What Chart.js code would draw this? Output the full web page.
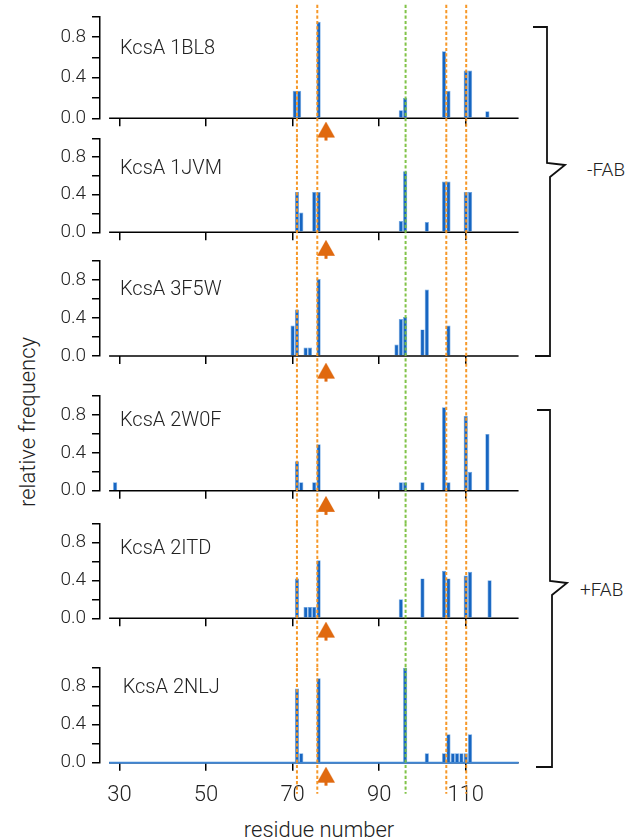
<!DOCTYPE html>
<html><head><meta charset="utf-8">
<script src="https://cdn.jsdelivr.net/npm/chart.js@4.4.1/dist/chart.umd.min.js"></script>
<style>
html,body{margin:0;padding:0;background:#fff}
body{width:641px;height:840px;overflow:hidden;position:relative;font-family:Roboto,"Liberation Sans",sans-serif;font-weight:300;color:#222}
canvas{position:absolute;left:0}
.t{position:absolute;white-space:nowrap;line-height:20px;font-size:20px}
svg{position:absolute;left:0;top:0}
</style></head><body>
<svg width="641" height="840">
  <path d="M533,27 H547 V163 L565,165 L550,177 V356 H535" fill="none" stroke="#111" stroke-width="1.8"/>
  <path d="M537,410 H550 V581 L567,583 L552,595 V767 H536" fill="none" stroke="#111" stroke-width="1.8"/>
</svg>
<div class="t" style="left:587px;top:160px;font-size:19px">-FAB</div>
<div class="t" style="left:580px;top:580px;font-size:19px">+FAB</div>
<div class="t" style="left:28px;top:422px;font-size:22px;transform:translate(-50%,-50%) rotate(-90deg)">relative frequency</div>
<div class="t" style="left:319px;top:820px;font-size:22px;transform:translateX(-50%)">residue number</div>
<script>
// ---------------- data ----------------
const panelNames = ['KcsA 1BL8','KcsA 1JVM','KcsA 3F5W','KcsA 2W0F','KcsA 2ITD','KcsA 2NLJ'];
const residues1BL8 = [70.5,71.5,76,95,96,105,106,110,111,115];
const freq1BL8     = [0.27,0.27,0.95,0.08,0.20,0.66,0.27,0.47,0.47,0.07];
const residues1JVM = [71,72,75,76,95,96,101,105,106,110,111];
const freq1JVM     = [0.43,0.21,0.43,0.43,0.12,0.65,0.11,0.54,0.54,0.43,0.43];
const residues3F5W = [70,71,73,74,76,94,95,96,100,101,106];
const freq3F5W     = [0.32,0.49,0.09,0.09,0.81,0.12,0.39,0.41,0.28,0.70,0.32];
const residues2W0F = [29,71,72,75,76,95,96,100,105,106,110,111,115];
const freq2W0F     = [0.09,0.31,0.09,0.09,0.49,0.09,0.09,0.09,0.88,0.09,0.79,0.20,0.60];
const residues2ITD = [71,73,74,75,76,95,100,105,106,110,111,115.5];
const freq2ITD     = [0.42,0.12,0.12,0.12,0.61,0.20,0.42,0.50,0.42,0.45,0.49,0.40];
const residues2NLJ = [71,72,76,96,101,105,106,107,108,109,110,111];
const freq2NLJ     = [0.78,0.10,0.89,1.00,0.10,0.10,0.30,0.10,0.10,0.10,0.10,0.30];
const orangeGuides = [71, 75.7, 105.5, 110.1];
const greenGuides  = [96.1];
const markerResidue = 77.7;
const markerLevels = [-0.13,-0.186,-0.175,-0.16,-0.14,-0.147];
const xTickValues = [30,50,70,90,110];
const yTickValues = [0,0.2,0.4,0.6,0.8,1.0];
const yLabelValues = [0,0.4,0.8];
const xLimits = [25.5, 122.3];
const xSpine = [27.6, 122.2];

const panelResidues = [residues1BL8,residues1JVM,residues3F5W,residues2W0F,residues2ITD,residues2NLJ];
const panelFreqs = [freq1BL8,freq1JVM,freq3F5W,freq2W0F,freq2ITD,freq2NLJ];

// ---------------- layout (pixels) ----------------
const geo = [
  {top:0,   h:145, y1:16.7,  y0:118.3, up:12, down:20,   tx:120,   tb:53.3},
  {top:124, h:142, y1:138.3, y0:232.3, up:0,  down:28.7, tx:120,   tb:174},
  {top:247, h:152, y1:261,   y0:356,   up:0,  down:40,   tx:120,   tb:295},
  {top:382, h:145, y1:396,   y0:490.7, up:0,  down:32.6, tx:120,   tb:425.7},
  {top:509, h:162, y1:523.3, y0:618.3, up:0,  down:49.4, tx:120,   tb:553.3},
  {top:653, h:187, y1:667.7, y0:762.7, up:0,  down:31,   tx:122.7, tb:692.7}
];

const BAR = '#1766c2', BAR_EDGE = '#6ea7e4';
const ORANGE = 'rgba(246,146,30,0.95)', GREEN = 'rgba(122,192,62,0.95)';
const TRI = '#e0690f', LINE_BLUE = '#3f86d4';
const FONT = 'Roboto, "Liberation Sans", sans-serif';

function makeArrow(){
  const c = document.createElement('canvas'); c.width = 18; c.height = 20;
  const g = c.getContext('2d'); g.fillStyle = TRI;
  g.beginPath(); g.moveTo(9,0); g.lineTo(18,16); g.lineTo(0,16); g.closePath(); g.fill();
  g.fillRect(7.5,15,3,4);
  return c;
}
const arrowImg = makeArrow();

const guidePlugin = {
  id:'guides',
  beforeDatasetsDraw(chart, args, o){
    const {ctx, chartArea, scales:{x}} = chart;
    ctx.save();
    ctx.strokeStyle = '#000'; ctx.lineWidth = 1.5;
    ctx.beginPath();
    ctx.moveTo(x.getPixelForValue(xSpine[0]), chartArea.bottom);
    ctx.lineTo(x.getPixelForValue(xSpine[1]), chartArea.bottom);
    ctx.stroke();
    ctx.restore();
  },
  afterDatasetsDraw(chart, args, o){
    const {ctx, chartArea, scales:{x}} = chart;
    const ya = chartArea.top - o.up, yb = chartArea.bottom + o.down;
    ctx.save();
    ctx.lineWidth = 2; ctx.setLineDash([3.2,2.2]);
    const draw = (vals, col) => vals.forEach(v => {
      const px = x.getPixelForValue(v);
      ctx.strokeStyle = col; ctx.beginPath(); ctx.moveTo(px, ya); ctx.lineTo(px, yb); ctx.stroke();
    });
    draw(orangeGuides, ORANGE);
    draw(greenGuides, GREEN);
    ctx.restore();
  }
};

geo.forEach((g, i) => {
  const cv = document.createElement('canvas');
  cv.width = 641; cv.height = g.h; cv.style.top = g.top + 'px';
  document.body.appendChild(cv);
  const last = i === geo.length - 1;

  const t = document.createElement('div');
  t.className = 't'; t.textContent = panelNames[i];
  t.style.left = g.tx + 'px'; t.style.top = (g.tb - 16.8) + 'px';
  document.body.appendChild(t);

  const datasets = [{
    type:'bar',
    data: panelResidues[i].map((r, k) => ({x:r, y:panelFreqs[i][k]})),
    backgroundColor: BAR, borderColor: BAR_EDGE, borderWidth: 0.7,
    barPercentage: 0.97, categoryPercentage: 1.0
  }];
  if (last) {
    datasets.push({
      type:'line', data: xSpine.map(v => ({x:v, y:0})),
      borderColor: LINE_BLUE, borderWidth: 2, pointRadius: 0, clip: false
    });
  }
  datasets.push({
    type:'line', data:[{x:markerResidue, y:markerLevels[i]}],
    showLine:false, pointStyle: arrowImg, pointRadius: 30, pointHoverRadius: 30, clip:false
  });

  new Chart(cv, {
    type:'bar',
    data:{datasets},
    plugins:[guidePlugin],
    options:{
      responsive:false, animation:false, devicePixelRatio:1,
      events: [],
      layout:{autoPadding:false, padding:{left:0, right:641-519, top:g.y1 - g.top, bottom:0}},
      plugins:{legend:{display:false}, tooltip:{enabled:false},
        guides:{up:g.up, down:g.down}},
      scales:{
        x:{
          type:'linear', min:xLimits[0], max:xLimits[1], offset:false,
          afterBuildTicks: s => { s.ticks = xTickValues.map(v => ({value:v})); },
          afterFit: s => { s.height = g.h - (g.y0 - g.top); s.paddingLeft = 0; s.paddingRight = 0; s.paddingTop = 0; s.paddingBottom = 0; },
          grid:{display:true, drawOnChartArea:false, drawTicks:true, tickLength:8, color:'#000', lineWidth:1.5, offset:false},
          border:{display:false},
          ticks:{display:last, color:'#222', padding:12, maxRotation:0, autoSkip:false,
            font:{family:FONT, size:22, weight:'300'}, callback: v => String(v)}
        },
        y:{
          type:'linear', min:0, max:1,
          afterBuildTicks: s => { s.ticks = yTickValues.map(v => ({value:v})); },
          afterFit: s => { s.width = 100; s.paddingTop = 0; s.paddingBottom = 0; s.paddingLeft = 0; s.paddingRight = 0; },
          grid:{display:true, drawOnChartArea:false, drawTicks:true, tickLength:8, color:'#000', lineWidth:1.5},
          border:{display:true, color:'#000', width:1.5},
          ticks:{color:'#222', padding:6, autoSkip:false,
            font:{family:FONT, size:19, weight:'300'},
            callback: v => yLabelValues.some(l => Math.abs(l - v) < 1e-9) ? Number(v).toFixed(1) : ''}
        }
      }
    }
  });
});
</script>
</body></html>
